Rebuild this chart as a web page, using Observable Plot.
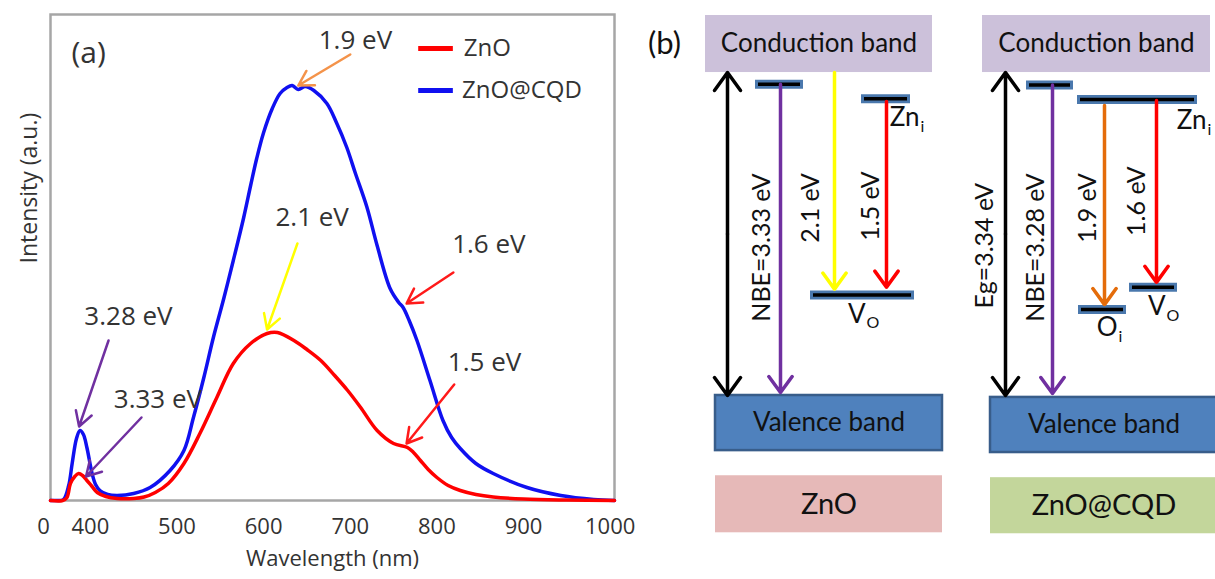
<!DOCTYPE html>
<html><head><meta charset="utf-8">
<script src="https://cdn.jsdelivr.net/npm/d3@7"></script>
<script src="https://cdn.jsdelivr.net/npm/@observablehq/plot@0.6"></script>
<style>
body{margin:0;background:#fff;}
#wrap{display:flex;width:1215px;height:579px;overflow:hidden;background:#fff;}
svg{overflow:visible;}
</style></head><body><div id="wrap"></div>
<script>
// ---------------- Panel (a): PL spectra ----------------
const wavelengthZnO = [354,368,373,377,382,386.5,391,396,402,408,418,431,450,462,475,490,508,527,546,565,585,604,616,635,650,666,682,697,712,731,750,766,773,781,790,800,813,827,845,865,900,950,1005];
const intensityZnO  = [0,0,3,17,24,27,25,20,14,8,4,2,2,3.5,8,17,37,68,103,137,157,167,168,160,151,140,125,110,93,70,57,53,48,40,31,23,15,10,6,3.5,1.5,0.5,0];
const wavelengthCQD = [354,362,369,375,379,384,388,392,396,402,406,411,420,431,450,469,492,508,519,531,542,554,565,577,585,592,600,610,619,627,633,640,648,658,673,684,696,706,719,731,746,756,761,768,777,792,807,817,827,845,865,904,943,981,1005];
const intensityCQD  = [0,0,1,15,37,62,70,66,53,27,16,10,6,5,7,13,30,50,83,123,163,202,240,283,315,342,368,392,407,413,415,411,414,410,397,378,353,327,294,255,212,198,193,180,160,120,80,63,52,37,27,13,5,1,0];
const seriesNames = ["ZnO", "ZnO@CQD"];
const xTickValues = [346, 400, 500, 600, 700, 800, 900, 1000];
const xTickLabels = ["0", "400", "500", "600", "700", "800", "900", "1000"];

// peak annotations (label position and arrow, in wavelength / intensity units)
const peakLabels   = ["1.9 eV", "2.1 eV", "1.6 eV", "1.5 eV", "3.28 eV", "3.33 eV"];
const peakLabelX   = [706, 656, 860, 855, 444, 478];
const peakLabelY   = [460, 283, 256, 138, 184, 101];
const peakArrowX1  = [700, 639, 819, 820, 421, 459];
const peakArrowY1  = [446, 257, 228, 116, 160, 83];
const peakArrowX2  = [640, 604, 765, 765, 387, 395];
const peakArrowY2  = [415, 171, 197, 57, 74, 24];
const peakColors   = ["#f4934a", "#ffff00", "#ff1a1a", "#ff1a1a", "#7030a0", "#7030a0"];

const seriesColors = {"ZnO": "#ff0000", "ZnO@CQD": "#1010f0"};
const toRows = (xs, ys, s) => xs.map((x, i) => ({series: s, wavelength: x, intensity: ys[i]}));
const zno = toRows(wavelengthZnO, intensityZnO, "ZnO");
const cqd = toRows(wavelengthCQD, intensityCQD, "ZnO@CQD");
const peaks = peakLabels.map((t, i) => ({t, lx: peakLabelX[i], ly: peakLabelY[i], x1: peakArrowX1[i], y1: peakArrowY1[i], x2: peakArrowX2[i], y2: peakArrowY2[i], c: peakColors[i]}));
const legendRows = [
  {series: "ZnO", x1: 779, x2: 819, y: 452, tx: 831},
  {series: "ZnO@CQD", x1: 779, x2: 819, y: 410, tx: 829}
];

const txt = "#333333";
const left = Plot.plot({
  width: 640, height: 579,
  marginLeft: 50, marginRight: 26, marginTop: 14, marginBottom: 79,
  style: {fontFamily: "'Open Sans', sans-serif", fontSize: "22px", color: txt, background: "white", overflow: "visible"},
  x: {domain: [354, 1005], axis: null},
  y: {domain: [0, 486], axis: null},
  marks: [
    Plot.frame({stroke: "#a6a6a6", strokeWidth: 2.5}),
    Plot.axisX({ticks: xTickValues, tickFormat: (d) => xTickLabels[xTickValues.indexOf(d)], tickSize: 0, tickPadding: 18, fontSize: 22, fill: txt, label: null}),
    Plot.text(["Wavelength (nm)"], {frameAnchor: "bottom", dy: 65, fontSize: 22, fill: txt}),
    Plot.text(["Intensity (a.u.)"], {frameAnchor: "left", dx: -21, dy: 6, rotate: -90, fontSize: 23, fill: txt}),
    Plot.line(cqd, {x: "wavelength", y: "intensity", stroke: seriesColors["ZnO@CQD"], strokeWidth: 3.5, curve: "catmull-rom"}),
    Plot.line(zno, {x: "wavelength", y: "intensity", stroke: seriesColors["ZnO"], strokeWidth: 3.5, curve: "catmull-rom"}),
    Plot.arrow(peaks, {x1: "x1", y1: "y1", x2: "x2", y2: "y2", stroke: "c", strokeWidth: 2.5, headLength: 10, headAngle: 60}),
    Plot.text(peaks, {x: "lx", y: "ly", text: "t", fontSize: 26, fill: txt}),
    Plot.text(["(a)"], {x: [398], y: [447], fontSize: 30, fill: txt}),
    Plot.ruleY(legendRows, {x1: "x1", x2: "x2", y: "y", stroke: (d) => seriesColors[d.series], strokeWidth: 5}),
    Plot.text(legendRows, {x: "tx", y: "y", text: "series", textAnchor: "start", fontSize: 24, fill: txt})
  ]
});

// ---------------- Panel (b): band diagrams ----------------
const bandLabels = ["Conduction band", "Conduction band", "Valence band", "Valence band", "ZnO", "ZnO@CQD"];
const bandKind   = ["cb", "cb", "vb", "vb", "zno", "cqd"];
const bandX1     = [65, 342, 75, 350, 75, 350];
const bandX2     = [292, 570, 302, 577, 302, 577];
const bandTop    = [3.93, 3.93, 0.0, -0.02, -0.83, -0.85];
const bandBottom = [3.34, 3.34, -0.57, -0.59, -1.42, -1.43];

const levelNames = ["", "Zn", "V", "", "Zn", "O", "V"];
const levelSubs  = ["", "i", "O", "", "i", "i", "O"];
const levelX1    = [115, 221, 170, 386, 437, 438, 489];
const levelX2    = [163, 270, 274, 433, 557, 486, 537];
const levelE     = [3.22, 3.07, 1.04, 3.21, 3.06, 0.89, 1.12];
const levelLabelX = [0, 279, 225, 0, 566, 477, 525];
const levelLabelE = [0, 2.87, 0.84, 0, 2.84, 0.70, 0.92];

const transLabels = ["NBE=3.33 eV", "2.1 eV", "1.5 eV", "NBE=3.28 eV", "1.9 eV", "1.6 eV"];
const transX      = [140, 194, 246, 412, 464, 516];
const transFrom   = [3.22, 3.34, 3.04, 3.21, 3.00, 3.05];
const transTo     = [0.03, 1.10, 1.12, 0.02, 0.94, 1.17];
const transColor  = ["#7030a0", "#ffff00", "#ff0000", "#7030a0", "#e46c0a", "#ff0000"];
const transLabelX = [121, 170, 230, 395, 447, 496];
const transLabelE = [1.53, 1.94, 1.96, 1.53, 1.94, 2.01];

const gapX = [87, 365];
const gapTop = 3.34, gapBottom = 0.0;
const gapLabel = "Eg=3.34 eV", gapLabelX = 344, gapLabelE = 1.55;

const bandFill = {cb: "#ccc1da", vb: "#4f81bd", zno: "#e6b9b8", cqd: "#c3d69b"};
const bands = bandLabels.map((t, i) => ({t, k: bandKind[i], x1: bandX1[i], x2: bandX2[i], top: bandTop[i], bottom: bandBottom[i]}));
const levels = levelE.map((e, i) => ({e, x1: levelX1[i], x2: levelX2[i], name: levelNames[i], sub: levelSubs[i], lx: levelLabelX[i], le: levelLabelE[i]}));
const named = levels.filter(d => d.name);
const trans = transLabels.map((t, i) => ({t, x: transX[i], from: transFrom[i], to: transTo[i], c: transColor[i], lx: transLabelX[i], le: transLabelE[i]}));
const gaps = gapX.map(x => ({x, mid: (gapTop + gapBottom) / 2}));

const right = Plot.plot({
  width: 575, height: 579, margin: 0,
  style: {fontFamily: "Lato, sans-serif", fontSize: "24px", color: "#111", background: "white", overflow: "visible"},
  x: {domain: [0, 575], axis: null},
  y: {domain: [-1.903, 4.085], axis: null},
  marks: [
    Plot.rect(bands, {x1: "x1", x2: "x2", y1: "bottom", y2: "top", fill: (d) => bandFill[d.k], stroke: (d) => d.k === "vb" ? "#385d8a" : "none", strokeWidth: 2.5}),
    Plot.text(bands, {x: (d) => (d.x1 + d.x2) / 2, y: (d) => (d.top + d.bottom) / 2, text: "t", fontSize: (d) => d.k === "cb" || d.k === "vb" ? 26 : 29, fill: "#111"}),
    Plot.text(["(b)"], {x: [24], y: [3.63], fontSize: 31, fill: "#111"}),
    Plot.ruleY(levels, {x1: "x1", x2: "x2", y: "e", stroke: "#4a78ad", strokeWidth: 9}),
    Plot.ruleY(levels, {x1: "x1", x2: "x2", y: "e", stroke: "#000", strokeWidth: 3.5, insetLeft: 3, insetRight: 3}),
    Plot.arrow(gaps, {x1: "x", x2: "x", y1: "mid", y2: () => gapTop, stroke: "#000", strokeWidth: 3.5, headLength: 9.5, headAngle: 72}),
    Plot.arrow(gaps, {x1: "x", x2: "x", y1: "mid", y2: () => gapBottom, stroke: "#000", strokeWidth: 3.5, headLength: 9.5, headAngle: 72}),
    Plot.arrow(trans, {x1: "x", x2: "x", y1: "from", y2: "to", stroke: "c", strokeWidth: 3.5, headLength: 8.5, headAngle: 72}),
    Plot.text(trans, {x: "lx", y: "le", text: "t", rotate: -90, fontSize: 25, fill: "#111"}),
    Plot.text([gapLabel], {x: [gapLabelX], y: [gapLabelE], rotate: -90, fontSize: 25, fill: "#111"}),
    Plot.text(named, {x: "lx", y: "le", text: "name", textAnchor: "end", fontSize: 26, fill: "#111"}),
    Plot.text(named, {x: "lx", y: "le", text: "sub", textAnchor: "start", dx: 1, dy: 9, fontSize: 16, fill: "#111"})
  ]
});

const wrap = document.getElementById("wrap");
wrap.appendChild(left);
wrap.appendChild(right);
</script>
</body></html>
